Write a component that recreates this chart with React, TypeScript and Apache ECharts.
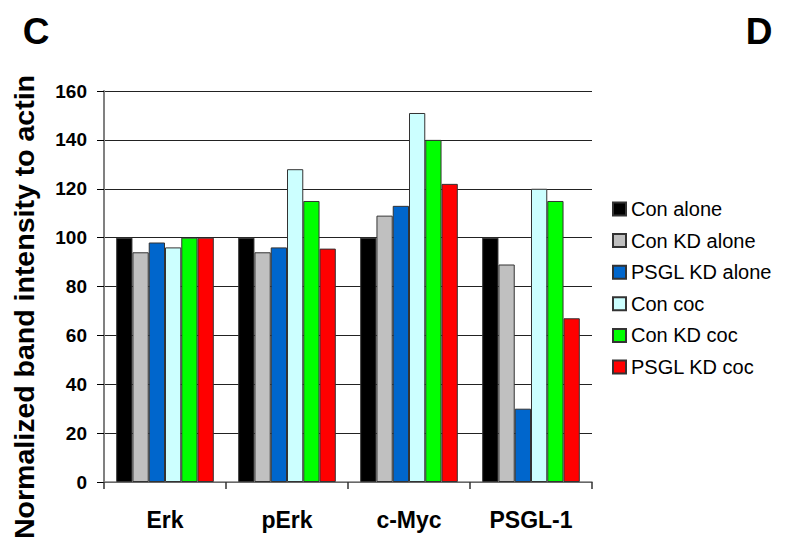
import React, { useEffect, useRef } from "react";
import * as echarts from "echarts";

const categories = ["Erk", "pErk", "c-Myc", "PSGL-1"];
const seriesNames = ["Con alone", "Con KD alone", "PSGL KD alone", "Con coc", "Con KD coc", "PSGL KD coc"];
const conAlone = [100, 100, 100, 100];
const conKdAlone = [94, 94, 109, 89];
const psglKdAlone = [98, 96, 113, 30];
const conCoc = [96, 128, 151, 120];
const conKdCoc = [100, 115, 140, 115];
const psglKdCoc = [100, 95.5, 122, 67];
const seriesValues = [conAlone, conKdAlone, psglKdAlone, conCoc, conKdCoc, psglKdCoc];
const colors = ["#000000", "#C0C0C0", "#0066CC", "#CCFFFF", "#00FF00", "#FF0000"];

const FONT = "Liberation Sans, Arial, sans-serif";

export default function App() {
  const ref = useRef<HTMLDivElement>(null);
  useEffect(() => {
    if (!ref.current) return;
    const chart = echarts.init(ref.current, null, { renderer: "svg" });
    chart.setOption({
      animation: false,
      backgroundColor: "#ffffff",
      textStyle: { fontFamily: FONT },
      grid: { left: 104, right: 197, top: 91, bottom: 66, containLabel: false },
      legend: {
        orient: "vertical",
        left: 607,
        top: 194,
        itemWidth: 13,
        itemHeight: 13,
        itemGap: 11.6,
        icon: "rect",
        data: seriesNames,
        textStyle: { fontSize: 20, fontFamily: FONT, color: "#000", lineHeight: 20, padding: [0, 0, 0, 0] },
      },
      xAxis: {
        type: "category",
        data: categories,
        boundaryGap: true,
        axisLine: { lineStyle: { color: "#808080", width: 1.5 } },
        axisTick: { show: true, length: 7, lineStyle: { color: "#333", width: 1.5 } },
        axisLabel: { fontSize: 23, fontWeight: "bold", color: "#000", margin: 26, fontFamily: FONT },
      },
      yAxis: {
        type: "value",
        min: 0,
        max: 160,
        interval: 20,
        axisLine: { show: true, lineStyle: { color: "#808080", width: 2 } },
        axisTick: { show: true, length: 7, lineStyle: { color: "#000", width: 1 } },
        axisLabel: { fontSize: 19, fontWeight: "bold", color: "#000", margin: 17, fontFamily: FONT },
        splitLine: { show: true, lineStyle: { color: "#222", width: 1 } },
      },
      series: seriesNames.map((name, i) => ({
        name,
        type: "bar",
        data: seriesValues[i],
        barGap: "0%",
        barCategoryGap: "20%",
        itemStyle: { color: colors[i], borderColor: "#333", borderWidth: 1 },
      })),
      graphic: [
        {
          type: "text",
          x: 24,
          y: 307,
          rotation: Math.PI / 2,
          style: {
            text: "Normalized band intensity to actin",
            font: `bold 28.5px ${FONT}`,
            fill: "#000",
            align: "center",
            verticalAlign: "middle",
          },
        },
        {
          type: "text",
          x: 36,
          y: 31,
          style: { text: "C", font: `bold 37px ${FONT}`, fill: "#000", align: "center", verticalAlign: "middle" },
        },
        {
          type: "text",
          x: 759,
          y: 31,
          style: { text: "D", font: `bold 37px ${FONT}`, fill: "#000", align: "center", verticalAlign: "middle" },
        },
      ],
    });
    return () => chart.dispose();
  }, []);
  return <div ref={ref} style={{ width: 789, height: 548, position: "absolute", left: 0, top: 0 }} />;
}
